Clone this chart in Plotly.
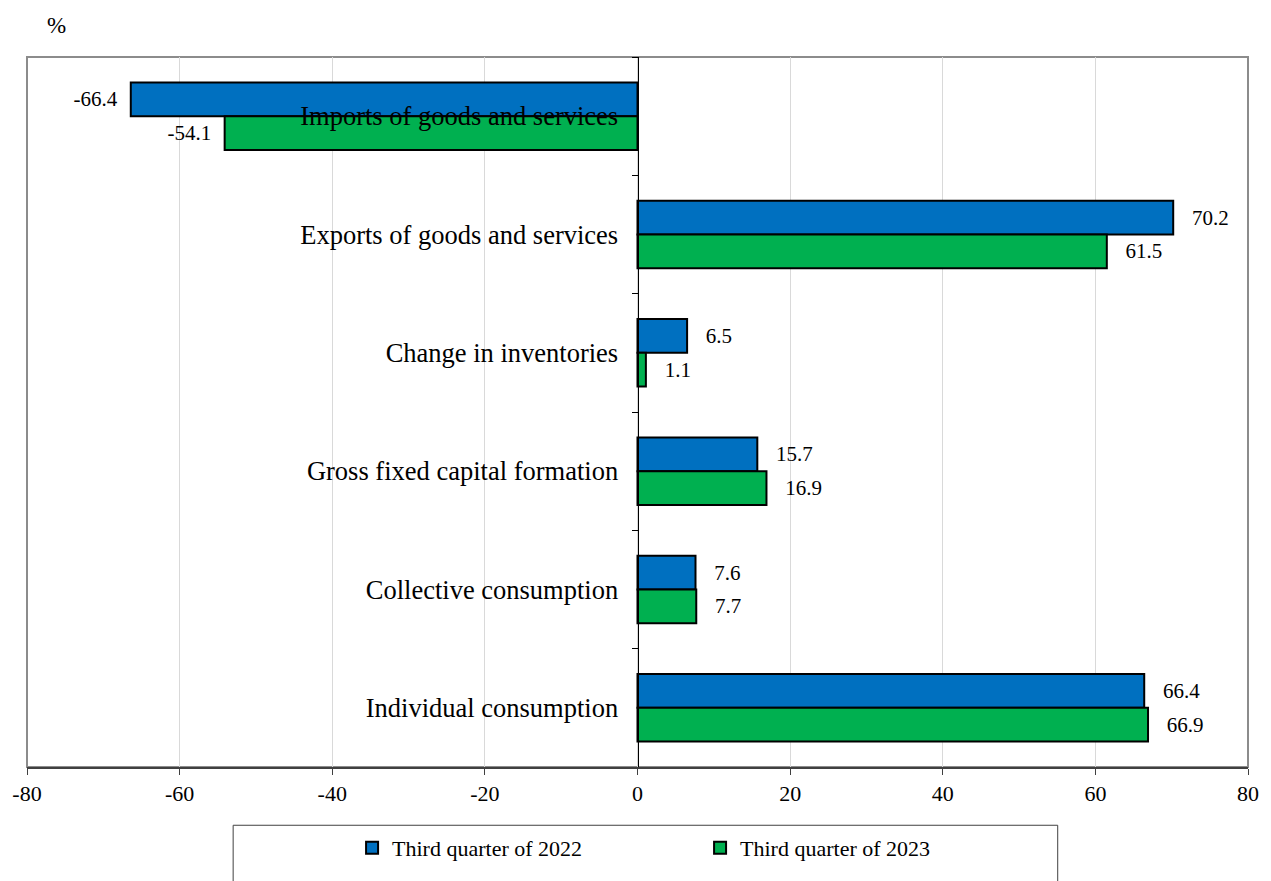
import plotly.graph_objects as go

categories = [
    "Imports of goods and services",
    "Exports of goods and services",
    "Change in inventories",
    "Gross fixed capital formation",
    "Collective consumption",
    "Individual consumption",
]
q3_2022 = [-66.4, 70.2, 6.5, 15.7, 7.6, 66.4]
q3_2023 = [-54.1, 61.5, 1.1, 16.9, 7.7, 66.9]
series_names = ["Third quarter of 2022", "Third quarter of 2023"]
tick_vals = [-80, -60, -40, -20, 0, 20, 40, 60, 80]

FONT = "Liberation Serif"
NB = "\u00a0"


def labels(vals):
    out = []
    for v in vals:
        s = f"{v:.1f}"
        out.append(s + NB * 2 if v < 0 else NB * 3 + s)
    return out


fig = go.Figure()
for name, vals, color in [
    (series_names[0], q3_2022, "#0070C0"),
    (series_names[1], q3_2023, "#00B050"),
]:
    fig.add_trace(go.Bar(
        y=categories, x=vals, name=name, orientation="h",
        marker=dict(color=color, line=dict(color="black", width=2)),
        text=labels(vals), textposition="outside", cliponaxis=False,
        constraintext="none",
        textfont=dict(family=FONT, size=21, color="black"),
        hoverinfo="x+y",
    ))

fig.update_layout(
    width=1271, height=881,
    margin=dict(l=25, r=14, t=57, b=105),
    paper_bgcolor="white", plot_bgcolor="white",
    barmode="group", bargap=0.43, bargroupgap=0,
    font=dict(family=FONT, size=20, color="black"),
    showlegend=True,
    legend=dict(
        orientation="h", x=(353 - 25) / 1232, xanchor="left",
        y=-(858 - 776) / 719, yanchor="middle",
        font=dict(family=FONT, size=22, color="black"),
        entrywidth=303, entrywidthmode="pixels",
        bgcolor="rgba(0,0,0,0)", borderwidth=0,
    ),
    xaxis=dict(
        range=[-80, 80], tickvals=tick_vals, ticktext=[str(t) for t in tick_vals],
        showgrid=True, gridcolor="#D9D9D9", gridwidth=1,
        zeroline=False, showline=True, linecolor="#404040", linewidth=2,
        ticks="outside", ticklen=6, tickcolor="#404040", tickwidth=1,
        tickfont=dict(family=FONT, size=22, color="black"),
        fixedrange=True,
    ),
    yaxis=dict(
        type="category", autorange="reversed",
        anchor="free", position=0.5,
        showline=True, linecolor="black", linewidth=1,
        ticks="outside", tickson="boundaries", ticklen=6, tickcolor="black",
        showgrid=False, zeroline=False,
        tickfont=dict(family=FONT, size=26.5, color="black"),
        ticklabelstandoff=14,
        automargin=False, fixedrange=True,
    ),
)

# plot frame (top/left/right) in gray
fig.add_shape(type="rect", xref="paper", yref="paper", x0=0, x1=1, y0=0, y1=1,
              line=dict(color="#8C8C8C", width=2), layer="below")
# legend box
fig.add_shape(type="rect", xref="paper", yref="paper",
              x0=(233 - 25) / 1232, x1=(1065 - 25) / 1232,
              y0=-(835 - 776) / 719, y1=-(900 - 776) / 719,
              line=dict(color="#404040", width=1))

fig.add_annotation(text="%", xref="paper", yref="paper",
                   x=(43 - 25) / 1232, y=1 + (57 - 25) / 719,
                   xanchor="left", yanchor="middle", showarrow=False,
                   font=dict(family=FONT, size=23, color="black"))

fig.write_html(
    "out.html",
    post_script=(
        "document.documentElement.style.margin='0';"
        "document.documentElement.style.overflow='hidden';"
        "document.body.style.margin='0';"
        "document.body.style.overflow='hidden';"
    ),
)
